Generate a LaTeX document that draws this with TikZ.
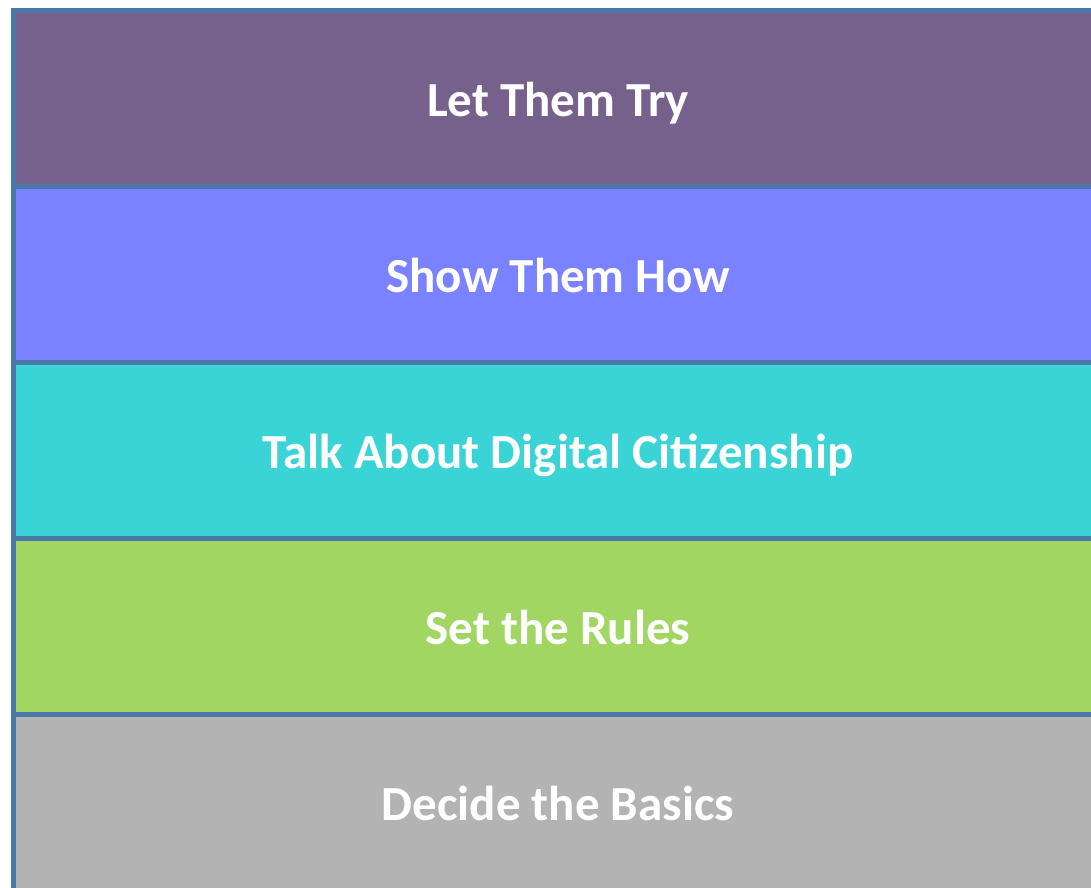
\documentclass[tikz,border=0pt]{standalone}
\usepackage{fontspec}
\setmainfont{Carlito}
\usetikzlibrary{positioning}
\definecolor{edgeblue}{HTML}{4A76A8}
\definecolor{trypurple}{HTML}{75618B}
\definecolor{howblue}{HTML}{7A82FF}
\definecolor{talkcyan}{HTML}{3AD4D7}
\definecolor{rulesgreen}{HTML}{A1D662}
\definecolor{basicsgrey}{HTML}{B3B3B3}
\tikzset{band/.style={draw=edgeblue, line width=5pt, minimum width=1090pt,
    minimum height=176pt, inner sep=0pt, outer sep=0pt, text=white,
    text height=40pt, text depth=4pt,
    font=\fontsize{49}{56}\selectfont\bfseries}}

\begin{document}
\begin{tikzpicture}[x=1pt,y=-1pt]
	\useasboundingbox (0,0) rectangle (1091,887);
	\node[band, fill=trypurple, anchor=north west] (try) at (13,10) {Let Them Try};
	\node[band, fill=howblue, below=0pt of try] (how) {Show Them How};
	\node[band, fill=talkcyan, below=0pt of how] (talk) {Talk About Digital Citizenship};
	\node[band, fill=rulesgreen, below=0pt of talk] (rules) {Set the Rules};
	\node[band, fill=basicsgrey, below=0pt of rules] (basics) {Decide the Basics};
\end{tikzpicture}
\end{document}
